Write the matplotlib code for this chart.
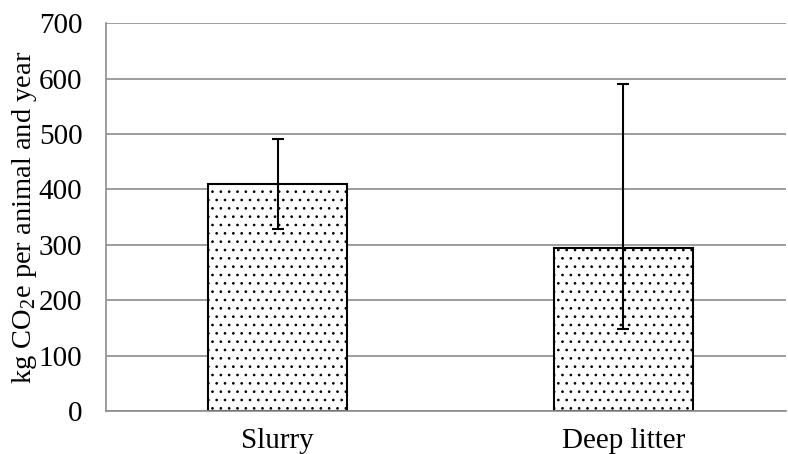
import matplotlib.pyplot as plt
import numpy as np

plt.rcParams['font.family'] = ['Liberation Serif', 'DejaVu Serif']
plt.rcParams['hatch.linewidth'] = 0.7
plt.rcParams['mathtext.fontset'] = 'custom'
plt.rcParams['mathtext.rm'] = 'Liberation Serif'

categories = ['Slurry', 'Deep litter']
values = [409, 294]
err_low = [409 - 328, 294 - 148]
err_high = [491 - 409, 590 - 294]
yticks = [0, 100, 200, 300, 400, 500, 600, 700]

fig = plt.figure(figsize=(7.88, 4.54), dpi=100)
ax = fig.add_axes([0.1345, 0.0947, 0.863, 0.854])

x = np.arange(len(categories))
ax.bar(x, values, width=0.40, color='white', edgecolor='black',
       linewidth=1.5, hatch='..', zorder=2)
ax.errorbar(x, values, yerr=[err_low, err_high], fmt='none', ecolor='black',
            elinewidth=1.5, capsize=4.5, capthick=1.5, zorder=3)

ax.set_xlim(-0.496, 1.47)
ax.set_ylim(0, 700)
ax.set_yticks(yticks)
ax.set_xticks(x)
ax.set_xticklabels(categories)
ax.yaxis.grid(True, color='#8c8c8c', linewidth=1.2, zorder=0)
ax.set_axisbelow(True)
for side in ['top', 'right']:
    ax.spines[side].set_visible(False)
for side in ['left', 'bottom']:
    ax.spines[side].set_color('#8c8c8c')
    ax.spines[side].set_linewidth(1.2)
ax.tick_params(axis='both', length=0, labelsize=21)
ax.tick_params(axis='y', pad=17)
ax.tick_params(axis='x', pad=12)
ax.set_ylabel('kg CO$_2$e per animal and year', fontsize=20.5, labelpad=0)

fig.savefig('out.png', dpi=100)
